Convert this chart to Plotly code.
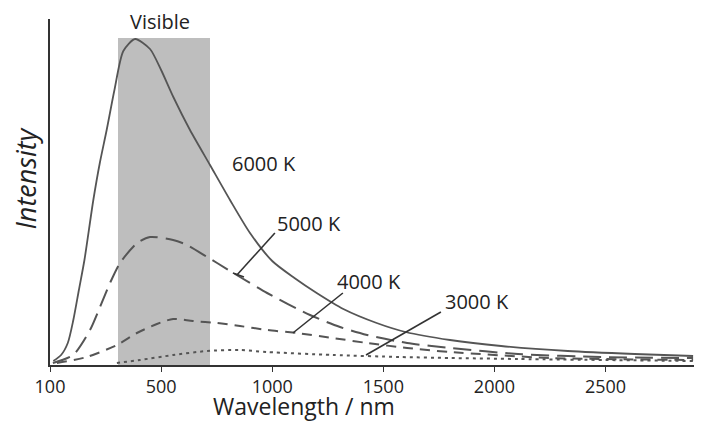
import plotly.graph_objects as go

# ---- data ----
wl_6000 = [15, 50, 80, 105, 130, 155, 195, 225, 255, 290, 330, 383, 450, 500, 555, 630, 720, 810, 900, 1000, 1100, 1200, 1320, 1470, 1600, 1800, 2030, 2330, 2630, 2894]
int_6000 = [4, 10, 22, 45, 75, 105, 165, 203, 235, 275, 314, 326, 316, 295, 268, 235, 200, 165, 132, 104, 87, 72, 56, 42, 33, 25, 19, 14, 11, 9]

wl_5000 = [13, 104, 180, 225, 270, 315, 392, 450, 554, 617, 707, 752, 855, 977, 1170, 1305, 1427, 1607, 1800, 2106, 2480, 2894]
int_5000 = [2, 10, 35, 58, 82, 102, 122, 128, 125, 120, 108, 102, 88, 72, 50, 38, 30, 22, 17, 11, 8, 7]

wl_4000 = [31, 166, 301, 391, 481, 554, 643, 752, 855, 977, 1111, 1273, 1427, 1607, 1800, 2254, 2894]
int_4000 = [2, 8, 20, 32, 41, 46, 44, 42, 39, 35, 32, 27, 22, 17, 13, 7, 5]

wl_3000 = [301, 405, 554, 707, 855, 977, 1273, 1575, 1800, 2106, 2894]
int_3000 = [2, 5, 10, 14, 15, 13, 10, 8, 7, 6, 4]

series_names = ["6000 K", "5000 K", "4000 K", "3000 K"]
series_dash = ["solid", "18px,8px", "10px,7px", "3px,4px"]

visible_band = [306, 720]          # nm
visible_top = 327

tick_vals = [0, 500, 1000, 1500, 2000, 2500]
tick_text = ["100", "500", "1000", "1500", "2000", "2500"]

# label anchors (nm, intensity) and leader lines
label_pos = {"6000 K": (810, 202), "5000 K": (1012, 142), "4000 K": (1282, 84), "3000 K": (1768, 64)}
leaders = [
    ((1012, 132), (841, 90)),
    ((823, 92), (873, 88)),
    ((1318, 72), (1093, 32)),
    ((1759, 53), (1422, 10)),
]

FONT = "Open Sans"
LINE_COL = "#555555"
TEXT_COL = "#222222"

fig = go.Figure()

# visible band
fig.add_shape(type="rect", xref="x", yref="y", x0=visible_band[0], x1=visible_band[1],
              y0=-1, y1=visible_top, fillcolor="#bebebe", line_width=0, layer="below")

for wl, it, name, dash in zip([wl_6000, wl_5000, wl_4000, wl_3000],
                              [int_6000, int_5000, int_4000, int_3000],
                              series_names, series_dash):
    fig.add_trace(go.Scatter(x=wl, y=it, mode="lines", name=name,
                             line=dict(color=LINE_COL, width=1.8 if dash == "solid" else 2,
                                       dash=dash, shape="spline", smoothing=0.7),
                             showlegend=False, hoverinfo="skip"))

for (x0, y0), (x1, y1) in leaders:
    fig.add_shape(type="line", xref="x", yref="y", x0=x0, y0=y0, x1=x1, y1=y1,
                  line=dict(color="#333333", width=1.6))

for name, (x, y) in label_pos.items():
    fig.add_annotation(x=x, y=y, xref="x", yref="y", text=name, showarrow=False,
                       xanchor="left", yanchor="middle",
                       font=dict(family=FONT, size=20, color=TEXT_COL))

fig.add_annotation(x=495, y=344, xref="x", yref="y", text="Visible", showarrow=False,
                   xanchor="center", yanchor="middle",
                   font=dict(family=FONT, size=20, color=TEXT_COL))

fig.add_annotation(x=-0.038, y=0.54, xref="paper", yref="paper", text="<i>Intensity</i>",
                   showarrow=False, textangle=-90, xanchor="center", yanchor="middle",
                   font=dict(family=FONT, size=27, color=TEXT_COL))

fig.add_annotation(x=0.391, y=-0.119, xref="paper", yref="paper", text="Wavelength / nm",
                   showarrow=False, xanchor="center", yanchor="middle",
                   font=dict(family=FONT, size=23, color=TEXT_COL))

# page body has an 8px margin: size/margins compensate so the plot area sits at 50..700 x 19..365
fig.update_layout(
    width=694, height=415,
    margin=dict(l=42, r=2, t=11, b=58, autoexpand=False),
    paper_bgcolor="white", plot_bgcolor="white",
    xaxis=dict(range=[0, 2925], showgrid=False, zeroline=False, showline=True,
               linecolor="#333333", linewidth=1.6, ticks="outside", ticklen=5,
               tickcolor="#333333", tickwidth=1.3, tickvals=tick_vals, ticktext=tick_text,
               tickfont=dict(family=FONT, size=18, color=TEXT_COL), automargin=False),
    yaxis=dict(range=[0, 346], showgrid=False, zeroline=False, showline=True,
               linecolor="#333333", linewidth=1.6, showticklabels=False, ticks="",
               automargin=False),
)

fig.write_html("out.html")
